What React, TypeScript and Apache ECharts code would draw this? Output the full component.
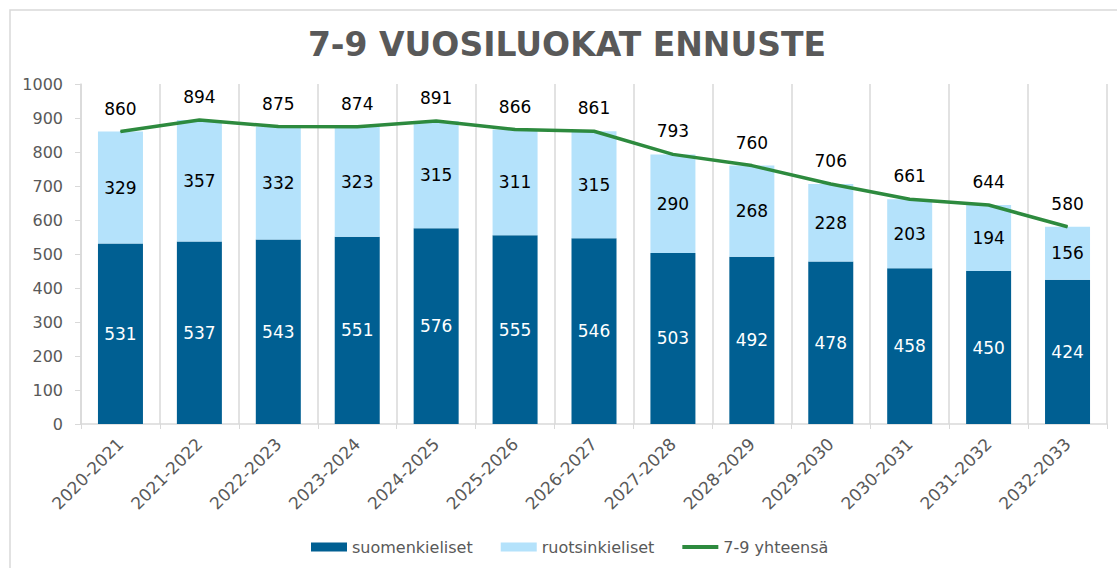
import React, { useEffect, useRef } from "react";
import * as echarts from "echarts";

const categories = [
  "2020-2021", "2021-2022", "2022-2023", "2023-2024", "2024-2025", "2025-2026", "2026-2027",
  "2027-2028", "2028-2029", "2029-2030", "2030-2031", "2031-2032", "2032-2033",
];
const suomenkieliset = [531, 537, 543, 551, 576, 555, 546, 503, 492, 478, 458, 450, 424];
const ruotsinkieliset = [329, 357, 332, 323, 315, 311, 315, 290, 268, 228, 203, 194, 156];
const yhteensa = [860, 894, 875, 874, 891, 866, 861, 793, 760, 706, 661, 644, 580];
const yTicks = { min: 0, max: 1000, interval: 100 };

const FONT = "'DejaVu Sans', Verdana, sans-serif";
const GRAY = "#595959";
const LINE_GRAY = "#d9d9d9";
const DARK = "#005F92";
const LIGHT = "#B4E2FB";
const GREEN = "#2D8A3E";

export default function App() {
  const ref = useRef<HTMLDivElement>(null);
  useEffect(() => {
    if (!ref.current) return;
    const chart = echarts.init(ref.current, null, { renderer: "svg" });
    chart.setOption({
      animation: false,
      backgroundColor: "#ffffff",
      textStyle: { fontFamily: FONT },
      graphic: [
        {
          type: "rect",
          shape: { x: 10, y: 10, width: 1300, height: 800 },
          style: { fill: "none", stroke: LINE_GRAY, lineWidth: 1.5 },
          silent: true,
        },
        {
          type: "text",
          x: 567,
          y: 44,
          style: {
            text: "7-9 VUOSILUOKAT ENNUSTE",
            fontFamily: FONT,
            fontSize: 33,
            fontWeight: "bold",
            fill: GRAY,
            align: "center",
            verticalAlign: "middle",
          },
          silent: true,
        },
      ],
      grid: { left: 81, right: 10, top: 84, bottom: 144, containLabel: false, outerBoundsMode: "none" },
      legend: {
        left: 306,
        top: 534,
        itemWidth: 36,
        itemHeight: 9,
        itemGap: 28,
        textStyle: { fontFamily: FONT, fontSize: 16, color: GRAY },
        data: [
          { name: "suomenkieliset", icon: "rect" },
          { name: "ruotsinkieliset", icon: "rect" },
          { name: "7-9 yhteensä", icon: "path://M0,0 L36,0 L36,4 L0,4 Z" },
        ],
      },
      xAxis: {
        type: "category",
        data: categories,
        axisLine: { show: true, lineStyle: { color: LINE_GRAY, width: 1.5 } },
        axisTick: { show: true, length: 5, lineStyle: { color: LINE_GRAY } },
        splitLine: { show: true, lineStyle: { color: LINE_GRAY, width: 1.5 } },
        axisLabel: { rotate: 45, fontSize: 17, color: GRAY, fontFamily: FONT, margin: 17, interval: 0 },
      },
      yAxis: {
        type: "value",
        min: yTicks.min,
        max: yTicks.max,
        interval: yTicks.interval,
        axisLine: { show: true, lineStyle: { color: LINE_GRAY, width: 1.5 } },
        axisTick: { show: true, length: 6, lineStyle: { color: LINE_GRAY } },
        splitLine: { show: false },
        axisLabel: {
          fontSize: 16,
          color: GRAY,
          fontFamily: FONT,
          margin: 18,
          formatter: (v: number) => String(v),
        },
      },
      series: [
        {
          name: "suomenkieliset",
          type: "bar",
          stack: "total",
          data: suomenkieliset,
          barWidth: 45,
          itemStyle: { color: DARK },
          label: { show: true, position: "inside", color: "#ffffff", fontSize: 17, fontFamily: FONT },
        },
        {
          name: "ruotsinkieliset",
          type: "bar",
          stack: "total",
          data: ruotsinkieliset,
          barWidth: 45,
          itemStyle: { color: LIGHT },
          label: { show: true, position: "inside", color: "#000000", fontSize: 17, fontFamily: FONT },
        },
        {
          name: "7-9 yhteensä",
          type: "line",
          data: yhteensa,
          symbol: "circle",
          symbolSize: 1,
          showSymbol: true,
          lineStyle: { color: GREEN, width: 3.5 },
          itemStyle: { color: GREEN },
          z: 5,
          label: { show: true, position: "top", distance: 14, color: "#000000", fontSize: 17, fontFamily: FONT },
        },
      ],
    });
    return () => chart.dispose();
  }, []);
  return (
    <div
      ref={ref}
      style={{ position: "absolute", left: 0, top: 0, width: 1117, height: 568 }}
    />
  );
}
